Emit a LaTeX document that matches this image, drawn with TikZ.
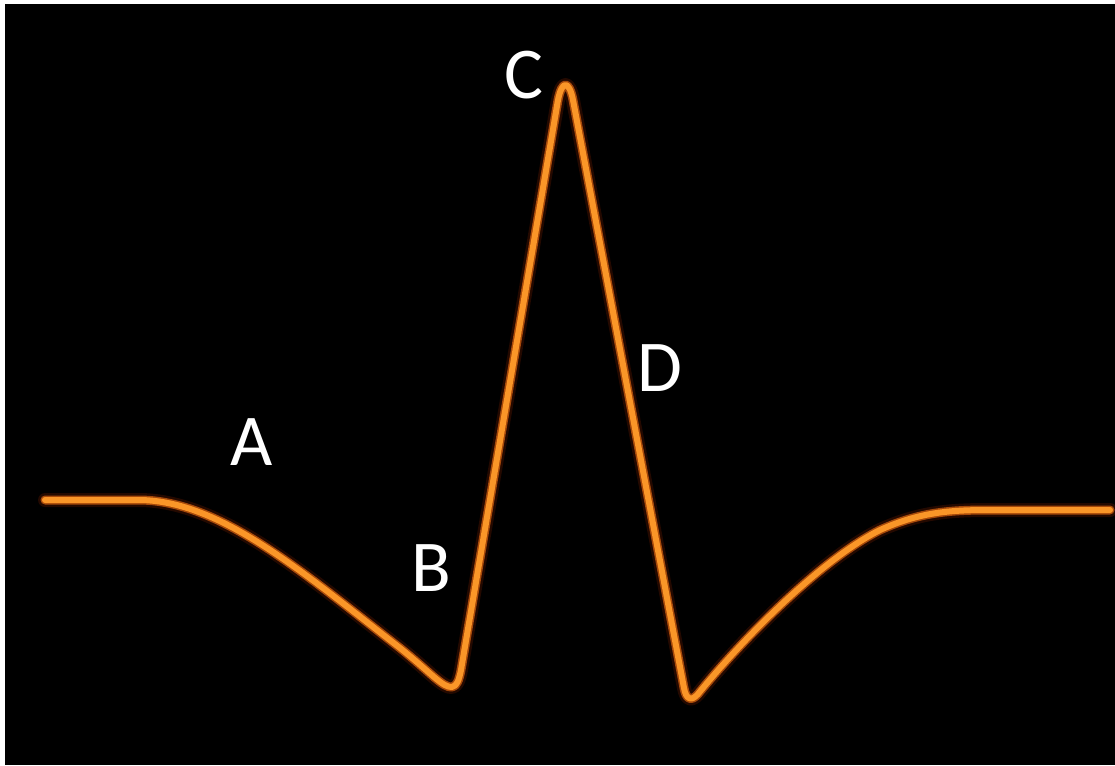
\documentclass[tikz,border=0pt]{standalone}
\usepackage{fontspec}
\setmainfont{Carlito}
\definecolor{waveorange}{RGB}{250,150,40}
\definecolor{wavemid}{RGB}{220,100,15}
\definecolor{waveglow}{RGB}{120,30,0}
\tikzset{
  letter/.style={text=white, font=\fontsize{73}{73}\selectfont, inner sep=0pt}
}
\begin{document}
\begin{tikzpicture}[x=1pt,y=-1pt]
  \useasboundingbox (0,0) rectangle (1115,765);
  \fill[white] (0,0) rectangle (1115,765);
  \fill[black] (5,4) rectangle (1115,765);
  % the trace, drawn three times for the glow
  \foreach \w/\c/\o in {14/waveglow/0.3, 9/wavemid/0.7, 6/waveorange/1}
    \draw[line width=\w pt, \c, opacity=\o, line cap=round, line join=round]
      (45,500) -- (140,500)
      .. controls (220,501) and (300,570) .. (400,648)
      .. controls (430,672) and (443,688) .. (452,687)
      .. controls (457,686) and (459,680) .. (461,670)
      -- (558,100)
      .. controls (562,80) and (569,80) .. (573,100)
      -- (684,688)
      .. controls (686,699) and (691,702) .. (698,694)
      .. controls (740,642) and (820,560) .. (880,530)
      .. controls (920,512) and (950,510) .. (990,510)
      -- (1110,510);
  \node[letter] (a) at (252,442) {A};
  \node[letter] (b) at (431,568) {B};
  \node[letter] (c) at (524,75) {C};
  \node[letter] (d) at (660,368) {D};
\end{tikzpicture}
\end{document}
